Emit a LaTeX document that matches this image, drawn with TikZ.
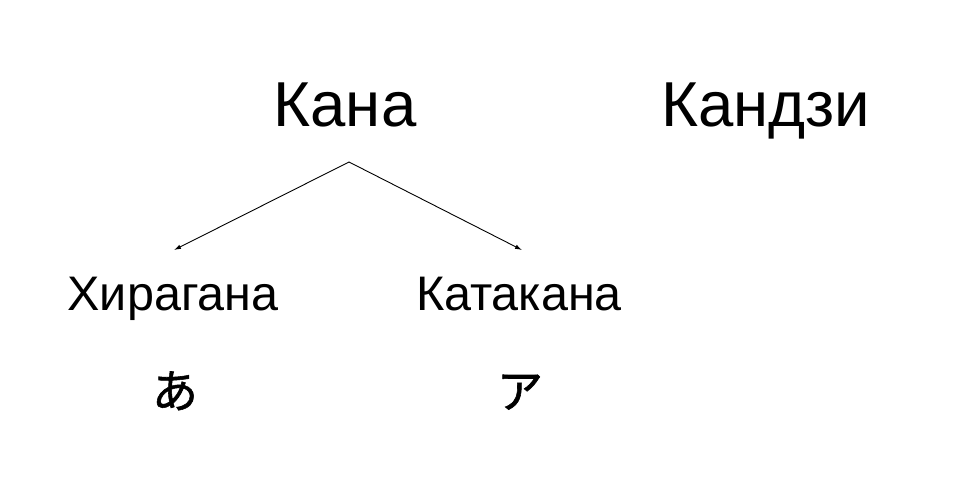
\documentclass[tikz,border=0pt]{standalone}
\usepackage{fontspec}
\setmainfont{Liberation Sans}
\newfontfamily\cjk[FakeBold=1.2]{Noto Sans CJK JP}
\usetikzlibrary{arrows.meta}
\begin{document}
\begin{tikzpicture}[x=1pt,y=1pt,
  big/.style={anchor=base,inner sep=0pt,font=\fontsize{63.5}{63.5}\selectfont},
  small/.style={anchor=base,inner sep=0pt,font=\fontsize{48.5}{48.5}\selectfont},
  kana/.style={anchor=base,inner sep=0pt,font=\cjk\fontsize{46}{46}\selectfont},
  arr/.style={-{Latex[length=7pt,width=4.5pt]},line width=0.9pt}]
\useasboundingbox (0,0) rectangle (959,483);
\node[big] (kana) at (345,356) {Кана};
\node[big] (kanji) at (766,356) {Кандзи};
\node[small] (hira) at (173,173) {Хирагана};
\node[small] (kata) at (519,173) {Катакана};
\node[kana] (a) at (175,75) {あ};
\node[kana] (ka) at (520,75) {ア};
\coordinate (fork) at (349,321);
\coordinate (hiratip) at (174,233);
\coordinate (katatip) at (522,233);
\draw[arr] (fork) -- (hiratip);
\draw[arr] (fork) -- (katatip);
\end{tikzpicture}
\end{document}
